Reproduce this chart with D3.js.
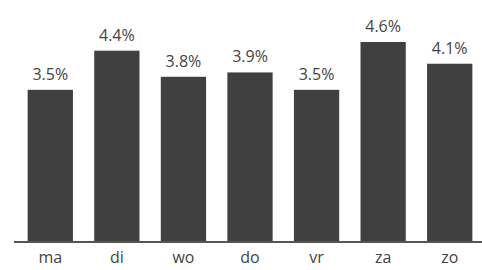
<!DOCTYPE html>
<html>
<head>
<meta charset="utf-8">
<script src="https://cdn.jsdelivr.net/npm/d3@7"></script>
<style>
  body { margin: 0; background: #fff; }
  text { font-family: "Open Sans", "Noto Sans", sans-serif; fill: #444; }
</style>
</head>
<body>
<div id="chart"></div>
<script>
// dagen van de week en aandeel per dag
var days = ["ma", "di", "wo", "do", "vr", "za", "zo"];
var shares = [3.5, 4.4, 3.8, 3.9, 3.5, 4.6, 4.1];

var width = 482,
    height = 270,
    baseline = 242;

var svg = d3.select("#chart").append("svg")
    .attr("width", width)
    .attr("height", height);

var x = d3.scaleBand()
    .domain(days)
    .range([17, 483])
    .paddingInner(0.32)
    .paddingOuter(0.16);

var y = d3.scaleLinear()
    .domain([0, 4.6])
    .range([baseline, 42]);

svg.selectAll("rect")
    .data(days)
    .enter().append("rect")
    .attr("x", function(d) { return x(d); })
    .attr("y", function(d, i) { return y(shares[i]); })
    .attr("width", x.bandwidth())
    .attr("height", function(d, i) { return baseline - y(shares[i]); })
    .attr("fill", "#404040");

svg.selectAll(".val")
    .data(days)
    .enter().append("text")
    .attr("class", "val")
    .attr("x", function(d) { return x(d) + x.bandwidth() / 2; })
    .attr("y", function(d, i) { return y(shares[i]) - 10; })
    .attr("text-anchor", "middle")
    .style("font-size", "16px")
    .text(function(d, i) { return shares[i].toFixed(1) + "%"; });

// x-as
var axis = svg.append("g")
    .attr("transform", "translate(0," + baseline + ")")
    .call(d3.axisBottom(x).tickSize(0).tickPadding(10));

axis.select(".domain").remove();
axis.append("line")
    .attr("x1", 14).attr("x2", width)
    .attr("stroke", "#555").attr("stroke-width", 2);

axis.selectAll("text")
    .attr("dy", "0.71em")
    .style("font-size", "16px")
    .style("font-family", "\"Open Sans\", sans-serif")
    .attr("fill", "#444");
</script>
</body>
</html>
